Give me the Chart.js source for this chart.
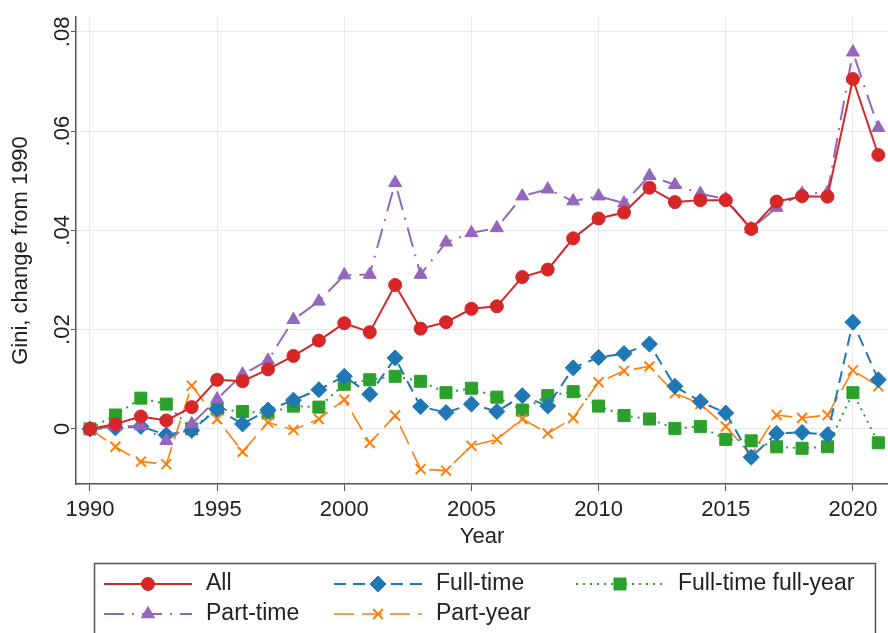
<!DOCTYPE html>
<html>
<head>
<meta charset="utf-8">
<script src="https://cdn.jsdelivr.net/npm/chart.js@4.4.1/dist/chart.umd.min.js"></script>
<style>
  html, body { margin: 0; padding: 0; background: #fff; }
  #wrap { width: 888px; height: 633px; }
</style>
</head>
<body>
<div id="wrap"><canvas id="giniChart" width="888" height="633"></canvas></div>
<script>
// gini change from 1990
var years = [1990, 1991, 1992, 1993, 1994, 1995, 1996, 1997, 1998, 1999,
             2000, 2001, 2002, 2003, 2004, 2005, 2006, 2007, 2008, 2009,
             2010, 2011, 2012, 2013, 2014, 2015, 2016, 2017, 2018, 2019,
             2020, 2021];

var allWorkers = [0, 0.0010, 0.0025, 0.0017, 0.0044, 0.0099, 0.0096, 0.0120, 0.0147, 0.0178,
                  0.0213, 0.0195, 0.0290, 0.0202, 0.0215, 0.0242, 0.0247, 0.0306, 0.0321, 0.0384,
                  0.0424, 0.0436, 0.0486, 0.0457, 0.0461, 0.0461, 0.0403, 0.0458, 0.0469, 0.0468,
                  0.0705, 0.0552];
var partTime = [0, 0.0005, 0.0006, -0.0024, 0.0010, 0.0060, 0.0110, 0.0138, 0.0220, 0.0257,
                0.0310, 0.0311, 0.0496, 0.0311, 0.0376, 0.0395, 0.0405, 0.0469, 0.0483, 0.0459,
                0.0469, 0.0455, 0.0510, 0.0492, 0.0474, 0.0463, 0.0403, 0.0446, 0.0474, 0.0476,
                0.0759, 0.0607];
var fullTime = [0, 0.0002, 0.0005, -0.0012, -0.0003, 0.0040, 0.0010, 0.0038, 0.0058, 0.0079,
                0.0106, 0.0070, 0.0143, 0.0045, 0.0033, 0.0050, 0.0035, 0.0067, 0.0046, 0.0123,
                0.0144, 0.0152, 0.0171, 0.0086, 0.0055, 0.0032, -0.0057, -0.0009, -0.0007, -0.0012,
                0.0215, 0.0099];
var partYear = [0, -0.0036, -0.0066, -0.0071, 0.0087, 0.0020, -0.0046, 0.0013, -0.0002, 0.0020,
                0.0059, -0.0028, 0.0027, -0.0081, -0.0084, -0.0034, -0.0021, 0.0020, -0.0009, 0.0022,
                0.0094, 0.0117, 0.0126, 0.0072, 0.0050, 0.0005, -0.0053, 0.0028, 0.0022, 0.0028,
                0.0118, 0.0086];
var fullTimeFullYear = [0, 0.0028, 0.0062, 0.0050, 0.0000, 0.0040, 0.0035, 0.0032, 0.0046, 0.0044,
                        0.0090, 0.0099, 0.0106, 0.0096, 0.0073, 0.0082, 0.0064, 0.0038, 0.0067, 0.0075,
                        0.0046, 0.0027, 0.0020, 0.0001, 0.0005, -0.0021, -0.0024, -0.0036, -0.0039, -0.0036,
                        0.0073, -0.0028];

var xTicks = [1990, 1995, 2000, 2005, 2010, 2015, 2020];
var yTicks = [0, 0.02, 0.04, 0.06, 0.08];

function pts(arr) {
  return years.map(function (yr, i) { return { x: yr, y: arr[i] }; });
}

Chart.defaults.font.family = '"Liberation Sans", Arial, sans-serif';
Chart.defaults.font.size = 22;
Chart.defaults.color = '#222';

var RED = '#d62728', PURPLE = '#9467bd', BLUE = '#1f77b4', ORANGE = '#ff7f0e', GREEN = '#2ca02c';

function series(label, arr, color, dash, style, radius, width) {
  return {
    label: label,
    data: pts(arr),
    borderColor: color,
    backgroundColor: color,
    borderWidth: width,
    borderDash: dash,
    pointStyle: style,
    pointRadius: radius,
    pointBorderWidth: style === 'crossRot' ? 2 : 1,
    pointBackgroundColor: color,
    pointBorderColor: color,
    tension: 0,
    fill: false
  };
}

var datasets = [
  series('All', allWorkers, RED, [], 'circle', 6.5, 2),
  series('Part-time', partTime, PURPLE, [20, 8, 2, 8], 'triangle', 7.5, 2),
  series('Full-time', fullTime, BLUE, [12, 7], 'rectRot', 8, 2),
  series('Part-year', partYear, ORANGE, [20, 8], 'crossRot', 7, 1.6),
  series('Full-time full-year', fullTimeFullYear, GREEN, [2, 5], 'rect', 8.5, 2)
];

// legend slots: [dataset index, row, column]
var legendSlots = [[0, 0, 0], [2, 0, 1], [4, 0, 2], [1, 1, 0], [3, 1, 1]];

var boxLegend = {
  id: 'boxLegend',
  afterDraw: function (chart) {
    var ctx = chart.ctx;
    var cols = [104, 334, 576];
    var rows = [584, 614];
    ctx.save();
    ctx.strokeStyle = '#555';
    ctx.lineWidth = 1.5;
    ctx.strokeRect(94.5, 563.5, 781, 100);
    legendSlots.forEach(function (s) {
      var ds = chart.data.datasets[s[0]];
      var x0 = cols[s[2]], y = rows[s[1]];
      var x1 = x0 + 88;
      ctx.save();
      ctx.strokeStyle = ds.borderColor;
      ctx.lineWidth = ds.borderWidth;
      ctx.setLineDash(ds.borderDash);
      ctx.beginPath();
      ctx.moveTo(x0, y);
      ctx.lineTo(x1, y);
      ctx.stroke();
      ctx.setLineDash([]);
      ctx.fillStyle = ds.pointBackgroundColor;
      ctx.strokeStyle = ds.pointBorderColor;
      ctx.lineWidth = ds.pointBorderWidth;
      Chart.helpers.drawPoint(ctx, { pointStyle: ds.pointStyle, radius: ds.pointRadius, rotation: 0, borderWidth: ds.pointBorderWidth }, (x0 + x1) / 2, y);
      ctx.restore();
      ctx.fillStyle = '#222';
      ctx.font = '23px "Liberation Sans", Arial, sans-serif';
      ctx.textBaseline = 'middle';
      ctx.fillText(ds.label, x1 + 14, y);
    });
    ctx.restore();
  }
};

var ctx = document.getElementById('giniChart').getContext('2d');
var giniChart = new Chart(ctx, {
  type: 'line',
  data: { datasets: datasets },
  options: {
    responsive: false,
    animation: false,
    layout: { autoPadding: false, padding: { left: 0, right: 0, top: 17, bottom: 78 } },
    plugins: {
      legend: { display: false },
      tooltip: { enabled: false }
    },
    scales: {
      x: {
        type: 'linear',
        min: 1989.45,
        max: 2021.38,
        afterBuildTicks: function (scale) {
          scale.ticks = xTicks.map(function (v) { return { value: v }; });
        },
        afterFit: function (scale) {
          scale.height = 71;
          scale.paddingLeft = 0;
          scale.paddingRight = 0;
        },
        ticks: {
          padding: 6,
          maxRotation: 0,
          callback: function (v) { return String(v); }
        },
        grid: { color: '#e9e9e9', lineWidth: 1, tickLength: 7, tickColor: '#555' },
        border: { color: '#555', width: 1.5 },
        title: { display: true, text: 'Year', padding: { top: 0, bottom: 5 } }
      },
      y: {
        min: -0.0111,
        max: 0.083,
        afterBuildTicks: function (scale) {
          scale.ticks = yTicks.map(function (v) { return { value: v }; });
        },
        afterFit: function (scale) { scale.width = 76; },
        ticks: {
          minRotation: 90,
          maxRotation: 90,
          crossAlign: 'center',
          padding: -7,
          callback: function (v) { return v === 0 ? '0' : v.toFixed(2).replace(/^0/, ''); }
        },
        grid: { color: '#e9e9e9', lineWidth: 1, tickLength: 5, tickColor: '#555' },
        border: { color: '#555', width: 1.5 },
        title: { display: true, text: 'Gini, change from 1990', padding: { top: 8, bottom: 0 } }
      }
    }
  },
  plugins: [boxLegend]
});
</script>
</body>
</html>
